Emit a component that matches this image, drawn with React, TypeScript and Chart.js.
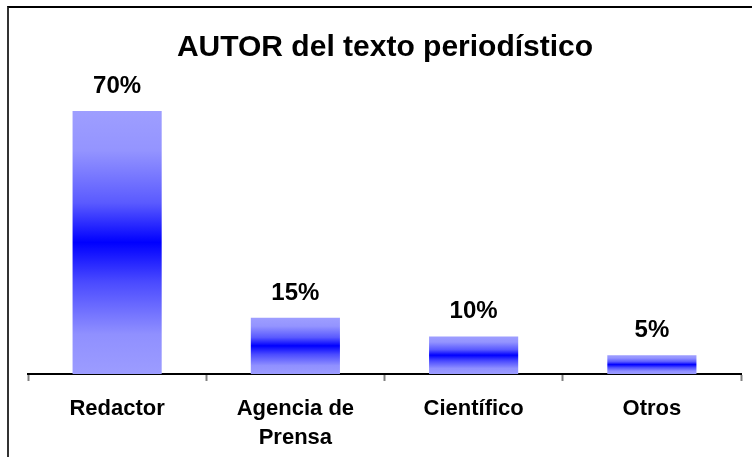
import React, { useEffect, useRef } from "react";
import { Chart, registerables } from "chart.js";

Chart.register(...registerables);

const titleText = "AUTOR del texto periodístico";
const categories: (string | string[])[] = ["Redactor", ["Agencia de", "Prensa"], "Científico", "Otros"];
const values = [70, 15, 10, 5];
const valueLabels = ["70%", "15%", "10%", "5%"];

const FONT = "'Liberation Sans', Arial, Helvetica, sans-serif";

export default function App() {
  const ref = useRef<HTMLCanvasElement | null>(null);

  useEffect(() => {
    const canvas = ref.current;
    if (!canvas) return;

    const overlay = {
      id: "overlay",
      afterDatasetsDraw(chart: any) {
        const ctx = chart.ctx;
        ctx.save();
        ctx.fillStyle = "#000";
        ctx.textAlign = "center";
        ctx.textBaseline = "alphabetic";
        ctx.font = `bold 30px ${FONT}`;
        ctx.fillText(titleText, 385, 56);
        ctx.font = `bold 24px ${FONT}`;
        const meta = chart.getDatasetMeta(0);
        meta.data.forEach((bar: any, i: number) => {
          ctx.fillText(valueLabels[i], bar.x, bar.y - 18);
        });
        ctx.restore();
      },
    };

    const chart = new Chart(canvas, {
      type: "bar",
      data: {
        labels: categories,
        datasets: [
          {
            data: values,
            barPercentage: 0.5,
            categoryPercentage: 1,
            borderWidth: 0,
            backgroundColor: (c: any) => {
              const ch = c.chart;
              if (!ch.chartArea || c.type !== "data") return "#0000ff";
              const ys = ch.scales.y;
              const top = ys.getPixelForValue(c.raw);
              const bottom = ys.getPixelForValue(0);
              const g = ch.ctx.createLinearGradient(0, top, 0, bottom);
              g.addColorStop(0, "#9e9eff");
              g.addColorStop(0.15, "#9494ff");
              g.addColorStop(0.35, "#5a5aff");
              g.addColorStop(0.5, "#0000ff");
              g.addColorStop(0.65, "#4a4aff");
              g.addColorStop(0.85, "#9090ff");
              g.addColorStop(1, "#9c9cff");
              return g;
            },
          },
        ],
      },
      options: {
        responsive: false,
        animation: false,
        layout: { padding: { top: 111, left: 28, right: 11, bottom: 0 } },
        plugins: {
          legend: { display: false },
          title: { display: false },
          tooltip: { enabled: false },
        },
        scales: {
          y: { display: false, min: 0, max: 70 },
          x: {
            afterFit: (s: any) => {
              s.height = 83;
            },
            border: { display: true, color: "#000", width: 2 },
            grid: {
              offset: true,
              drawOnChartArea: false,
              drawTicks: true,
              tickLength: 7,
              tickColor: "#808080",
              tickWidth: 2,
            },
            ticks: {
              color: "#000",
              padding: 13,
              font: { family: FONT, size: 22, weight: "bold", lineHeight: 1.33 },
              maxRotation: 0,
              autoSkip: false,
            },
          },
        },
      },
      plugins: [overlay],
    } as any);

    return () => chart.destroy();
  }, []);

  return (
    <div
      style={{
        position: "fixed",
        left: 0,
        top: 0,
        width: 752,
        height: 457,
        overflow: "hidden",
        background: "#fff",
      }}
    >
      <div
        style={{
          position: "absolute",
          left: 7,
          top: 6,
          width: 900,
          height: 600,
          borderLeft: "2px solid #333",
          borderTop: "2px solid #000",
        }}
      />
      <canvas ref={ref} width={752} height={457} style={{ position: "absolute", left: 0, top: 0, width: 752, height: 457 }} />
    </div>
  );
}
